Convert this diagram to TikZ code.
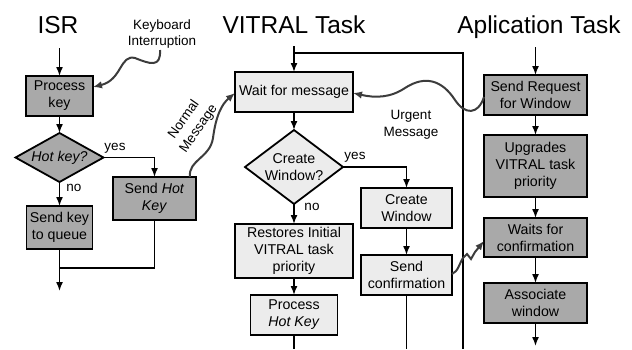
\documentclass[tikz,border=0pt]{standalone}
\usepackage{fontspec}
\setmainfont{Liberation Sans}
\usetikzlibrary{shapes.geometric,arrows.meta}
\definecolor{darkbox}{HTML}{A9A9A9}
\definecolor{lightbox}{HTML}{ECECEC}
\definecolor{wavy}{HTML}{3C3C3C}
\begin{document}
\begin{tikzpicture}[x=1pt,y=-1pt,
  every node/.style={inner sep=0pt,outer sep=0pt},
  boxd/.style={draw=black,line width=1.8pt,fill=darkbox,align=center,font=\fontsize{14.2}{17}\selectfont},
  boxl/.style={draw=black,line width=1.8pt,fill=lightbox,align=center,font=\fontsize{14.2}{17}\selectfont},
  dia/.style={diamond,draw=black,line width=1.8pt,align=center,font=\fontsize{14.2}{17}\selectfont},
  title/.style={font=\fontsize{24.5}{28}\selectfont,anchor=base},
  lbl/.style={font=\fontsize{13.5}{16.5}\selectfont,align=center},
  flow/.style={line width=1.5pt,-{Latex[length=9pt,width=7pt]}},
  plain/.style={line width=1.5pt},
  wave/.style={draw=wavy,line width=2pt,-{Latex[length=9pt,width=7.5pt]}}
]
\useasboundingbox (0,0) rectangle (632,349);
% titles
\node[title] (tisr) at (58,33) {ISR};
\node[title] (tvit) at (294,33) {VITRAL Task};
\node[title] (tapp) at (539,33) {Aplication Task};

% ISR column
\node[boxd,minimum width=67pt,minimum height=40pt] (pk) at (59.5,96) {Process\\key};
\node[dia,fill=darkbox,aspect=1.8,minimum width=88pt,minimum height=49pt] (hk) at (59.5,157.5) {\itshape Hot key?};
\node[boxd,minimum width=83pt,minimum height=43pt] (shk) at (154.5,198.5) {Send \textit{Hot}\\\textit{Key}};
\node[boxd,minimum width=66pt,minimum height=43pt] (sq) at (59.5,227.5) {Send key\\to queue};
\coordinate (isrtop) at (59.5,48);
\coordinate (isrend) at (59.5,291);
\coordinate (isrmerge) at (59.5,268);
\draw[flow] (isrtop) -- (pk.north);
\draw[flow] (pk.south) -- (hk.north);
\draw[flow] (hk.east) -| (shk.north);
\draw[flow] (hk.south) -- (sq.north);
\draw[flow] (sq.south) -- (isrend);
\draw[plain] (shk.south) |- (isrmerge);
\node[lbl] (yes1) at (115,148) {yes};
\node[lbl] (no1) at (74,188) {no};

% VITRAL column
\node[boxl,minimum width=118pt,minimum height=40pt] (wm) at (294,92) {Wait for message};
\node[dia,fill=lightbox,aspect=1.32,minimum width=98pt,minimum height=74pt] (cw) at (294,167) {Create\\Window?};
\node[boxl,minimum width=91pt,minimum height=40pt] (cwb) at (406.5,208) {Create\\Window};
\node[boxl,minimum width=91pt,minimum height=40pt] (sc) at (406.5,275) {Send\\confirmation};
\node[boxl,minimum width=118pt,minimum height=54pt] (rs) at (294,251) {Restores Initial\\VITRAL task\\priority};
\node[boxl,minimum width=87pt,minimum height=40pt] (ph) at (294,315) {Process\\\textit{Hot Key}};
\coordinate (vtop) at (294,46);
\coordinate (vj) at (294,53);
\coordinate (vr) at (463,53);
\coordinate (vb) at (463,349);
\coordinate (phend) at (294,349);
\coordinate (scend) at (406.5,349);
\draw[flow] (vtop) -- (wm.north);
\draw[plain] (vj) -- (vr) -- (vb);
\draw[flow] (wm.south) -- (cw.north);
\draw[flow] (cw.east) -| (cwb.north);
\draw[flow] (cw.south) -- (rs.north);
\draw[flow] (cwb.south) -- (sc.north);
\draw[flow] (rs.south) -- (ph.north);
\draw[plain] (ph.south) -- (phend);
\draw[plain] (sc.south) -- (scend);
\node[lbl] (yes2) at (355,157) {yes};
\node[lbl] (no2) at (312,207) {no};

% Application column
\node[boxd,minimum width=103pt,minimum height=40pt] (sr) at (535.5,95) {Send Request\\for Window};
\node[boxd,minimum width=103pt,minimum height=62pt] (up) at (535.5,166) {Upgrades\\VITRAL task\\priority};
\node[boxd,minimum width=103pt,minimum height=39pt] (wc) at (535.5,237.5) {Waits for\\confirmation};
\node[boxd,minimum width=103pt,minimum height=40pt] (aw) at (535.5,303) {Associate\\window};
\coordinate (atop) at (535.5,47);
\coordinate (aend) at (535.5,346);
\draw[flow] (atop) -- (sr.north);
\draw[flow] (sr.south) -- (up.north);
\draw[flow] (up.south) -- (wc.north);
\draw[flow] (wc.south) -- (aw.north);
\draw[flow] (aw.south) -- (aend);

% wavy message arrows
\node[lbl] (kbd) at (162,34) {Keyboard\\Interruption};
\coordinate (kbds) at (160,50);
\draw[wave] (kbds) .. controls (161,68) and (150,64) .. (135,58) .. controls (120,54) and (122,80) .. (pk.east |- 0,87);

\node[lbl,rotate=55] (nm1) at (183,119) {Normal};
\node[lbl,rotate=55] (nm2) at (199,129) {Message};
\coordinate (nms) at (190,177);
\draw[wave] (nms) .. controls (188,160) and (210,158) .. (213,138) .. controls (216,115) and (222,104) .. (wm.west |- 0,93);

\node[lbl] (um) at (411,125) {Urgent\\Message};
\draw[wave] (sr.west |- 0,97) .. controls (478,115) and (465,115) .. (455,100) .. controls (442,80) and (425,75) .. (405,88) .. controls (390,98) and (375,98) .. (wm.east |- 0,93);

\draw[wave] (sc.east |- 0,274) .. controls (458,272) and (460,262) .. (463,258) -- (467,254) -- (471,259) -- (475,252) -- (wc.west |- 0,241);
\end{tikzpicture}
\end{document}
